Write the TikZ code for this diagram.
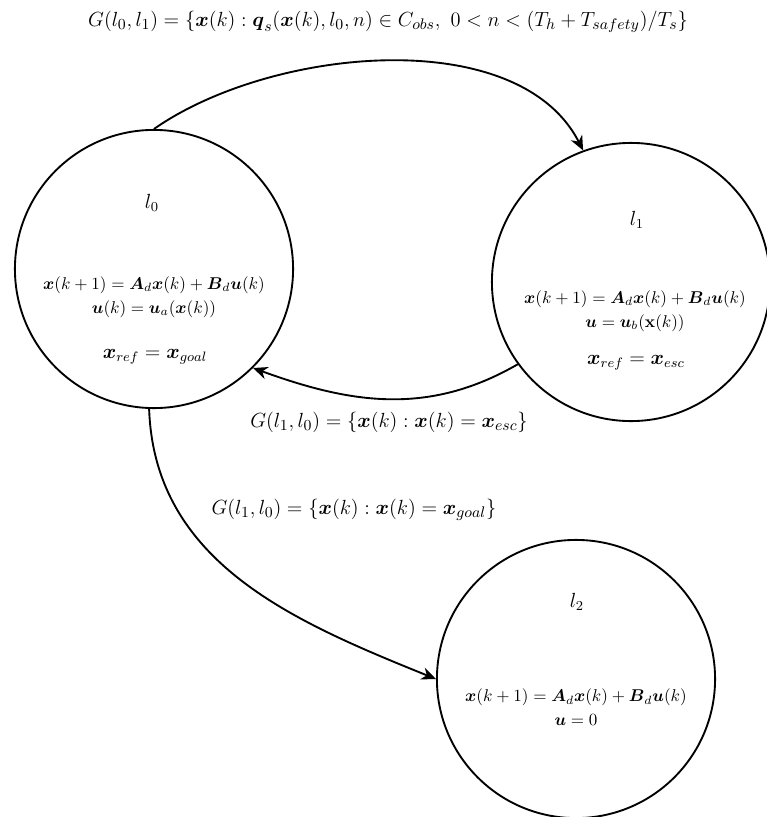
\documentclass[tikz,border=0pt]{standalone}
\usepackage{amsmath}
\usetikzlibrary{arrows.meta}

\newcommand{\vx}{\boldsymbol{x}}
\newcommand{\vu}{\boldsymbol{u}}
\newcommand{\vA}{\boldsymbol{A}}
\newcommand{\vB}{\boldsymbol{B}}
\newcommand{\vq}{\boldsymbol{q}}

\begin{document}
\begin{tikzpicture}[x=0.0206cm, y=-0.0206cm,
    state/.style={draw, circle, line width=1.1pt, minimum size=5.73cm, inner sep=0pt},
    trans/.style={line width=1.1pt, -{Stealth[length=3mm, width=2.6mm]}},
    txt/.style={inner sep=1pt, align=center},
    guard/.style={txt, font=\fontsize{12.2}{14}\selectfont}]
    \useasboundingbox (0,0) rectangle (767,817);

    % locations
    \node[state] (l0) at (154,269) {};
    \node[state] (l1) at (631,282) {};
    \node[state] (l2) at (576,679) {};

    % texts inside the locations
    \node[txt] (l0name) at (152,203) {\large $l_0$};
    \node[txt] (l0eq) at (154,297) {$\vx(k+1) = \vA_d\vx(k) + \vB_d\vu(k)$\\[2pt] $\vu(k) = \vu_a(\vx(k))$};
    \node[txt] (l0ref) at (155,357) {\large $\vx_{ref} = \vx_{goal}$};

    \node[txt] (l1name) at (637,220) {\large $l_1$};
    \node[txt] (l1eq) at (635,311) {$\vx(k+1) = \vA_d\vx(k) + \vB_d\vu(k)$\\[2pt] $\vu = \vu_b(\mathbf{x}(k))$};
    \node[txt] (l1ref) at (636,363) {\large $\vx_{ref} = \vx_{esc}$};

    \node[txt] (l2name) at (577,602) {\large $l_2$};
    \node[txt] (l2eq) at (576,707) {$\vx(k+1) = \vA_d\vx(k) + \vB_d\vu(k)$\\[2pt] $\vu = 0$};

    % guards
    \node[guard] (g01) at (388,22) {$G(l_0,l_1) = \{\vx(k) : \vq_s(\vx(k), l_0, n) \in C_{obs},\ 0 < n < (T_h + T_{safety})/T_s\}$};
    \node[guard] (g10) at (389,422) {$G(l_1,l_0) = \{\vx(k) : \vx(k) = \vx_{esc}\}$};
    \node[guard] (g02) at (354,510) {$G(l_1,l_0) = \{\vx(k) : \vx(k) = \vx_{goal}\}$};

    % transitions
    \draw[trans] (l0.90) to[out=35, in=117, looseness=0.85] (l1.110);
    \draw[trans] (l1.216) to[out=210, in=-20] (l0.-45);
    \draw[trans] (l0.268) to[out=-88, in=158] (l2.180);
\end{tikzpicture}
\end{document}
